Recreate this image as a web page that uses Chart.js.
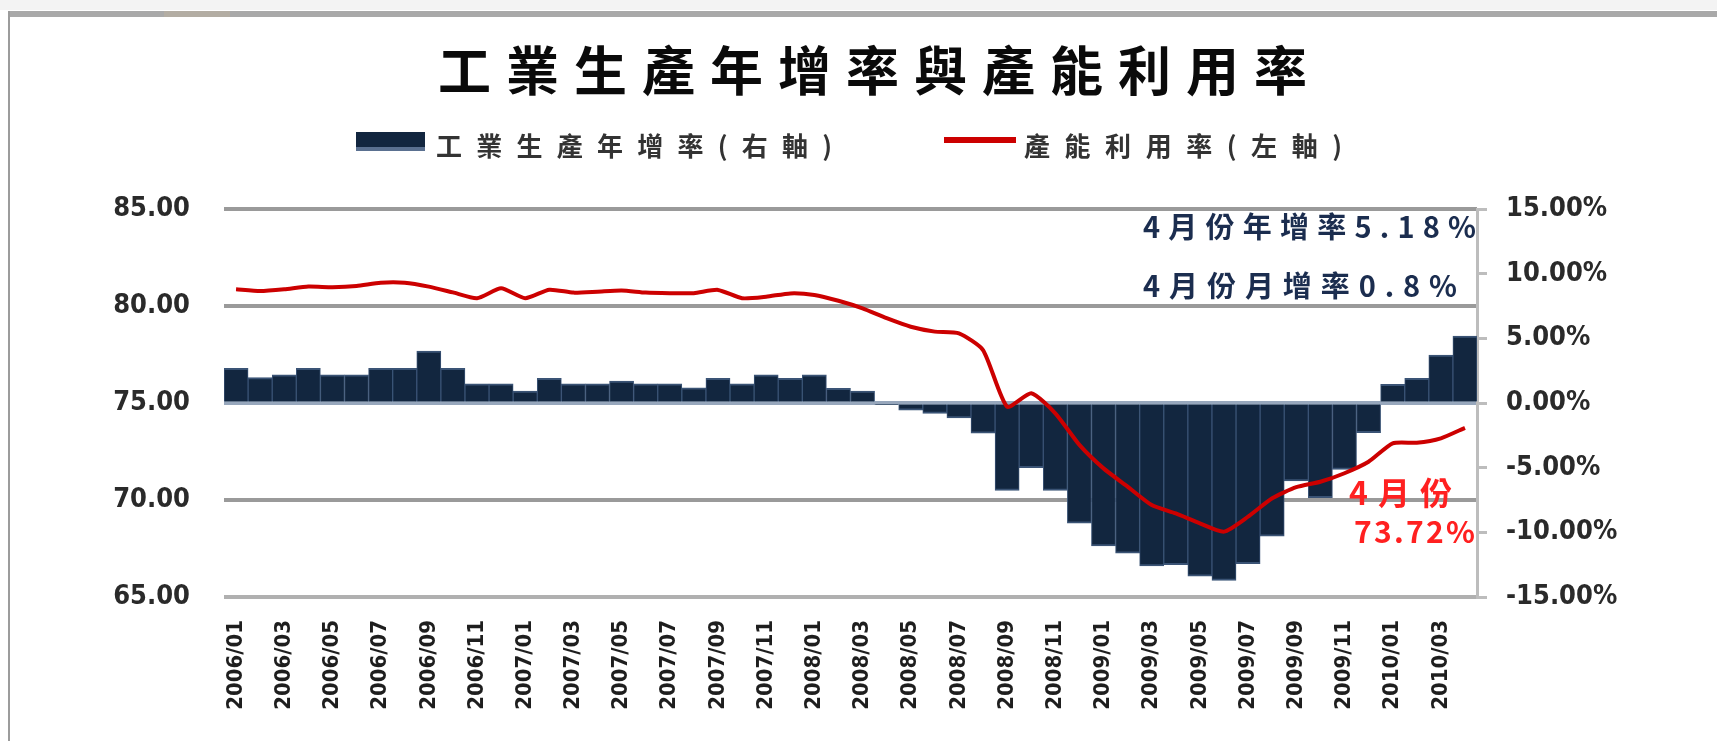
<!DOCTYPE html>
<html>
<head>
<meta charset="utf-8">
<script src="https://cdn.jsdelivr.net/npm/chart.js@4.4.1/dist/chart.umd.min.js"></script>
<style>
  html, body { margin: 0; padding: 0; background: #ffffff; }
  #c { display: block; }
</style>
</head>
<body>
<canvas id="c" width="1717" height="741"></canvas>
<script>
// ---------- DATA ----------
const chartTitle = '工業生產年增率與產能利用率';
const barSeriesName = '工業生產年增率(右軸)';
const lineSeriesName = '產能利用率(左軸)';

const months = [
  '2006/01','2006/02','2006/03','2006/04','2006/05','2006/06','2006/07','2006/08','2006/09','2006/10','2006/11','2006/12',
  '2007/01','2007/02','2007/03','2007/04','2007/05','2007/06','2007/07','2007/08','2007/09','2007/10','2007/11','2007/12',
  '2008/01','2008/02','2008/03','2008/04','2008/05','2008/06','2008/07','2008/08','2008/09','2008/10','2008/11','2008/12',
  '2009/01','2009/02','2009/03','2009/04','2009/05','2009/06','2009/07','2009/08','2009/09','2009/10','2009/11','2009/12',
  '2010/01','2010/02','2010/03','2010/04'
];

// Industrial production YoY growth (%), right axis
const ipGrowth = [
  2.68, 1.96, 2.17, 2.68, 2.17, 2.17, 2.68, 2.68, 4.02, 2.68, 1.49, 1.49,
  0.93, 1.91, 1.49, 1.49, 1.70, 1.49, 1.49, 1.18, 1.91, 1.49, 2.17, 1.91,
  2.17, 1.14, 0.93, -0.10, -0.56, -0.80, -1.16, -2.34, -6.75, -5.00, -6.75, -9.30,
  -11.06, -11.62, -12.60, -12.50, -13.38, -13.71, -12.43, -10.29, -6.03, -7.32, -5.13, -2.30,
  1.45, 1.91, 3.71, 5.18
];

// Capacity utilization (%), left axis
const utilization = [
  80.86, 80.77, 80.86, 81.00, 80.97, 81.03, 81.20, 81.20, 81.00, 80.70, 80.40, 80.91,
  80.40, 80.84, 80.69, 80.74, 80.80, 80.69, 80.66, 80.66, 80.83, 80.40, 80.48, 80.65,
  80.57, 80.27, 79.88, 79.37, 78.93, 78.68, 78.59, 77.73, 74.81, 75.50, 74.47, 72.84,
  71.63, 70.69, 69.74, 69.31, 68.80, 68.37, 69.14, 70.09, 70.66, 70.94, 71.38, 71.97,
  72.92, 72.95, 73.18, 73.72
];

const leftTicks = [65, 70, 75, 80, 85];
const rightTicks = [-15, -10, -5, 0, 5, 10, 15];
const monthGrowthNote = '0.8%';

// ---------- STYLE ----------
const NAVY = '#12263f';
const RED = '#cc0000';
const CJK = '"Noto Sans CJK TC", "Noto Sans CJK SC", sans-serif';
const NUM = '"DejaVu Sans Condensed", "DejaVu Sans", sans-serif';

function spacedText(ctx, text, x0, x1, yc, font, color) {
  ctx.save();
  ctx.font = font;
  ctx.fillStyle = color;
  ctx.textBaseline = 'middle';
  ctx.textAlign = 'left';
  const chars = Array.from(text);
  const n = chars.length;
  if ('letterSpacing' in ctx) {
    ctx.letterSpacing = '0px';
    const w0 = ctx.measureText(text).width;
    const ls = n > 1 ? (x1 - x0 - w0) / (n - 1) : 0;
    ctx.letterSpacing = ls + 'px';
    ctx.fillText(text, x0, yc);
  } else {
    const widths = chars.map(c => ctx.measureText(c).width);
    const sum = widths.reduce((a, b) => a + b, 0);
    const gap = n > 1 ? (x1 - x0 - sum) / (n - 1) : 0;
    let x = x0;
    chars.forEach((c, i) => { ctx.fillText(c, x, yc); x += widths[i] + gap; });
  }
  ctx.restore();
}

const framePlugin = {
  id: 'frame',
  beforeDraw(chart) {
    const ctx = chart.ctx;
    ctx.save();
    ctx.fillStyle = '#ffffff';
    ctx.fillRect(0, 0, chart.width, chart.height);
    ctx.fillStyle = '#f3f3f3';
    ctx.fillRect(0, 0, chart.width, 10);
    ctx.fillStyle = '#a9a9a9';
    ctx.fillRect(8, 11, chart.width - 8, 6);
    ctx.fillStyle = '#b3ada3';
    ctx.fillRect(164, 11, 66, 6);
    ctx.fillStyle = '#9c9c9c';
    ctx.fillRect(8, 11, 2, chart.height - 11);
    ctx.restore();
  },
  afterDraw(chart) {
    const ctx = chart.ctx;
    // Title
    spacedText(ctx, chartTitle, 438, 1307, 71, 'bold 53px ' + CJK, '#0a0a0a');
    // Legend: bar
    ctx.save();
    ctx.fillStyle = NAVY;
    ctx.fillRect(356, 132, 69, 15);
    ctx.fillStyle = '#5a7090';
    ctx.fillRect(356, 147, 69, 4);
    ctx.restore();
    spacedText(ctx, barSeriesName, 436, 832, 146, 'bold 26px ' + CJK, '#333333');
    // Legend: line
    ctx.save();
    ctx.strokeStyle = RED;
    ctx.lineWidth = 6;
    ctx.beginPath();
    ctx.moveTo(944, 140);
    ctx.lineTo(1016, 140);
    ctx.stroke();
    ctx.restore();
    spacedText(ctx, lineSeriesName, 1024, 1342, 146, 'bold 26px ' + CJK, '#333333');
    // Annotations
    const lastIdx = months.length - 1;
    const lastMonth = parseInt(months[lastIdx].split('/')[1], 10) + '月份';
    spacedText(ctx, lastMonth + '年增率' + ipGrowth[lastIdx].toFixed(2) + '%', 1143, 1476, 227,
      'bold 29px ' + CJK, '#1b2d4f');
    spacedText(ctx, lastMonth + '月增率' + monthGrowthNote, 1143, 1457, 286,
      'bold 29px ' + CJK, '#1b2d4f');
    spacedText(ctx, lastMonth, 1349, 1452, 493, 'bold 32px ' + CJK, '#ff2020');
    spacedText(ctx, utilization[lastIdx].toFixed(2) + '%', 1354, 1475, 532, 'bold 30px ' + CJK, '#ff2020');
  }
};

const ctx = document.getElementById('c').getContext('2d');
new Chart(ctx, {
  type: 'bar',
  data: {
    labels: months,
    datasets: [
      {
        type: 'line',
        label: lineSeriesName,
        data: utilization,
        yAxisID: 'yL',
        borderColor: RED,
        borderWidth: 4,
        pointRadius: 0,
        tension: 0.2,
        fill: false,
        order: 0
      },
      {
        type: 'bar',
        label: barSeriesName,
        data: ipGrowth,
        yAxisID: 'yR',
        backgroundColor: NAVY,
        borderColor: '#3a5375',
        borderWidth: { top: 2, bottom: 2, left: 1, right: 1 },
        borderSkipped: 'start',
        barPercentage: 1,
        categoryPercentage: 1,
        order: 1
      }
    ]
  },
  options: {
    responsive: false,
    animation: false,
    devicePixelRatio: 1,
    layout: { padding: { top: 209, left: 0, right: 0, bottom: 0 } },
    plugins: {
      legend: { display: false },
      title: { display: false },
      tooltip: { enabled: false }
    },
    scales: {
      x: {
        offset: true,
        grid: { display: false, drawTicks: false },
        border: { display: false },
        ticks: {
          autoSkip: false,
          maxRotation: 90,
          minRotation: 90,
          padding: 23,
          color: '#1e1e1e',
          font: { family: NUM, size: 22, weight: 'bold' },
          callback: (v, i) => (i % 2 === 0 ? months[i] : '')
        },
        afterFit: s => { s.height = 144; }
      },
      yL: {
        position: 'left',
        min: leftTicks[0],
        max: leftTicks[leftTicks.length - 1],
        afterBuildTicks: s => { s.ticks = leftTicks.map(v => ({ value: v })); },
        ticks: {
          padding: 34,
          color: '#2a2a2a',
          font: { family: NUM, size: 27, weight: 'bold' },
          callback: v => Number(v).toFixed(2)
        },
        grid: {
          drawTicks: false,
          lineWidth: 4,
          color: c => {
            const v = c.tick && c.tick.value;
            if (v === 75) return '#97a7bc';
            if (v === 65) return '#b0b0b0';
            return '#9a9a9a';
          }
        },
        border: { display: false },
        afterFit: s => { s.width = 224; }
      },
      yR: {
        position: 'right',
        min: rightTicks[0],
        max: rightTicks[rightTicks.length - 1],
        afterBuildTicks: s => { s.ticks = rightTicks.map(v => ({ value: v })); },
        ticks: {
          padding: 19,
          color: '#2a2a2a',
          font: { family: NUM, size: 27, weight: 'bold' },
          callback: v => Number(v).toFixed(2) + '%'
        },
        grid: {
          drawOnChartArea: false,
          drawTicks: true,
          tickLength: 10,
          lineWidth: 3,
          color: '#bdbdbd'
        },
        border: { display: true, color: '#bdbdbd', width: 3 },
        afterFit: s => { s.width = 240; }
      }
    }
  },
  plugins: [framePlugin]
});
</script>
</body>
</html>
